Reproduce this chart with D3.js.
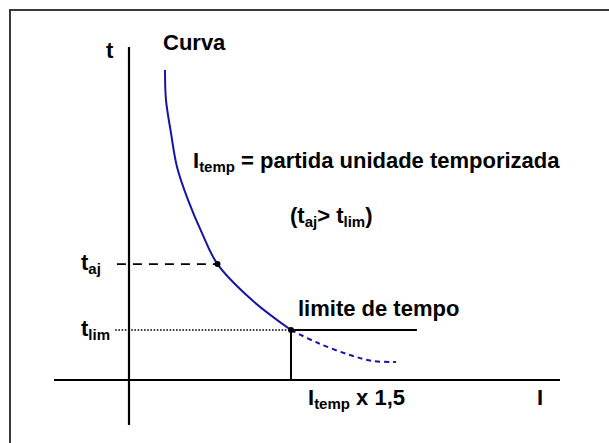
<!DOCTYPE html>
<html>
<head>
<meta charset="utf-8">
<script src="https://cdn.jsdelivr.net/npm/d3@7"></script>
<style>
  html, body { margin: 0; padding: 0; background: #fff; }
  svg { display: block; font-family: "Liberation Sans", Arial, sans-serif; font-weight: bold; }
</style>
</head>
<body>
<svg id="chart" width="609" height="443"></svg>
<script>
// Inverse-time curve of the time-delayed unit (I in multiples, t in arbitrary units)
const curveI = [0.835, 0.858, 0.974, 1.114, 1.369, 1.694, 2.053, 2.854, 3.759];
const curveT = [9.31, 8.41, 7.42, 6.40, 5.41, 4.41, 3.48, 2.40, 1.50];
// Continuation of the curve beyond the time limit (not active)
const tailI = [3.759, 4.385, 5.128, 5.661, 6.195];
const tailT = [1.50, 1.11, 0.75, 0.57, 0.54];

// Reference points
const tAj = 3.48, iAj = 2.053;
const tLim = 1.50, iLim = 3.759;
const limitEndI = 6.68;

// Axis extents
const xAxisExtent = [-1.74, 10];
const yAxisExtent = [-1.35, 10];

const svg = d3.select("#chart");
const x = d3.scaleLinear().domain([0, 10]).range([129, 560]);
const y = d3.scaleLinear().domain([0, 10]).range([380, 47]);

// frame
svg.append("path")
  .attr("d", `M10,443 L10,10 L609,10`)
  .attr("fill", "none").attr("stroke", "#3a3a3a").attr("stroke-width", 2);

// axes
svg.append("line")
  .attr("x1", x(xAxisExtent[0])).attr("x2", x(xAxisExtent[1]))
  .attr("y1", y(0)).attr("y2", y(0))
  .attr("stroke", "#000").attr("stroke-width", 2.2);
svg.append("line")
  .attr("x1", x(0)).attr("x2", x(0))
  .attr("y1", y(yAxisExtent[0])).attr("y2", y(yAxisExtent[1]))
  .attr("stroke", "#000").attr("stroke-width", 2.2);

// guide lines
svg.append("line")
  .attr("x1", x(-0.28)).attr("x2", x(iAj))
  .attr("y1", y(tAj)).attr("y2", y(tAj))
  .attr("stroke", "#000").attr("stroke-width", 1.8).attr("stroke-dasharray", "9,7");
svg.append("line")
  .attr("x1", x(-0.32)).attr("x2", x(iLim))
  .attr("y1", y(tLim)).attr("y2", y(tLim))
  .attr("stroke", "#000").attr("stroke-width", 1.6).attr("stroke-dasharray", "1.6,1.6");
svg.append("line")
  .attr("x1", x(iLim)).attr("x2", x(limitEndI))
  .attr("y1", y(tLim)).attr("y2", y(tLim))
  .attr("stroke", "#000").attr("stroke-width", 2);
svg.append("line")
  .attr("x1", x(iLim)).attr("x2", x(iLim))
  .attr("y1", y(tLim)).attr("y2", y(0))
  .attr("stroke", "#000").attr("stroke-width", 2);

// curve
const line = d3.line().x(d => x(d[0])).y(d => y(d[1])).curve(d3.curveCatmullRom.alpha(0.5));
svg.append("path")
  .attr("d", line(d3.zip(curveI, curveT)))
  .attr("fill", "none").attr("stroke", "#1414a8").attr("stroke-width", 2);
svg.append("path")
  .attr("d", line(d3.zip(tailI, tailT)))
  .attr("fill", "none").attr("stroke", "#1414a8").attr("stroke-width", 2)
  .attr("stroke-dasharray", "5,4");

// point markers
[[iAj, tAj], [iLim, tLim]].forEach(p => {
  svg.append("circle")
    .attr("cx", x(p[0])).attr("cy", y(p[1]))
    .attr("r", 3).attr("fill", "#000");
});

// text helper with subscripts
const fs = 22, subFs = 15;
function label(px, py, parts) {
  const t = svg.append("text").attr("x", px).attr("y", py)
    .attr("font-size", fs).attr("fill", "#000");
  let shifted = 0;
  parts.forEach(p => {
    const isSub = typeof p !== "string";
    const dy = isSub ? 4 - shifted : -shifted;
    shifted += dy;
    t.append("tspan")
      .attr("font-size", isSub ? subFs : fs)
      .attr("dy", dy)
      .text(isSub ? p.text : p);
  });
  return t;
}
const sub = (text) => ({ text });

label(106, 58, ["t"]);
label(163, 50, ["Curva"]);
label(537, 405, ["I"]);
label(193, 168, ["I", sub("temp"), " = partida unidade temporizada"]);
label(290, 223, ["(t", sub("aj"), "> t", sub("lim"), ")"]);
label(81, 270, ["t", sub("aj")]);
label(81, 336, ["t", sub("lim")]);
label(298, 316, ["limite de tempo"]);
label(308, 405, ["I", sub("temp"), " x 1,5"]);
</script>
</body>
</html>
